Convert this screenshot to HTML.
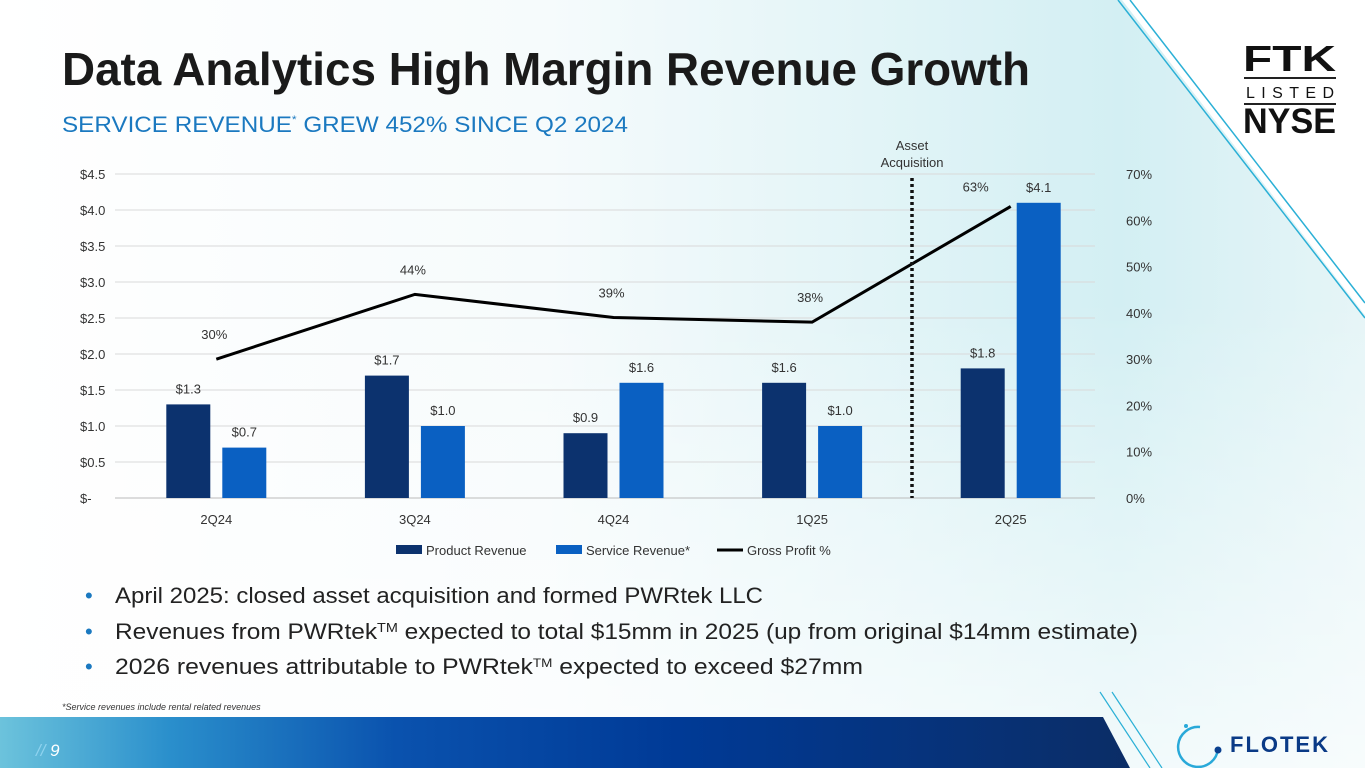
<!DOCTYPE html>
<html><head><meta charset="utf-8"><style>
body{margin:0;width:1365px;height:768px;overflow:hidden;font-family:"Liberation Sans",sans-serif;background:#fff}
svg{display:block}
</style></head><body>
<svg id="s" width="1365" height="768" viewBox="0 0 1365 768" font-family="Liberation Sans, sans-serif">
<defs>
<linearGradient id="bg" x1="0" y1="0" x2="1" y2="0">
<stop offset="0" stop-color="#ffffff"/><stop offset="0.4" stop-color="#f6fbfc"/><stop offset="0.82" stop-color="#d3eff3"/><stop offset="1" stop-color="#e6f5f7"/>
</linearGradient>
<linearGradient id="fade" x1="0" y1="0" x2="0" y2="1">
<stop offset="0" stop-color="#ffffff" stop-opacity="0"/><stop offset="1" stop-color="#ffffff" stop-opacity="0.7"/>
</linearGradient>
<linearGradient id="band" x1="0" y1="0" x2="1" y2="0">
<stop offset="0" stop-color="#6cc3dc"/><stop offset="0.15" stop-color="#2a8fcc"/><stop offset="0.35" stop-color="#0a52ae"/><stop offset="0.6" stop-color="#003a96"/><stop offset="1" stop-color="#0b2d66"/>
</linearGradient>
</defs>
<rect width="1365" height="768" fill="url(#bg)"/>
<rect y="300" width="1365" height="468" fill="url(#fade)"/>
<polygon points="1122,0 1365,0 1365,315" fill="#ffffff"/>
<line x1="1118" y1="0" x2="1365" y2="318" stroke="#2bb0d6" stroke-width="1.5"/>
<line x1="1130" y1="0" x2="1365" y2="303" stroke="#2bb0d6" stroke-width="1.5"/>
<polygon points="0,717 1103,717 1130,768 0,768" fill="url(#band)"/>
<line x1="1100" y1="692" x2="1150" y2="768" stroke="#2bb0d6" stroke-width="1.2"/>
<line x1="1112" y1="692" x2="1162" y2="768" stroke="#2bb0d6" stroke-width="1.2"/>
<text x="36" y="756" font-size="17" fill="#fff" font-style="italic"><tspan fill="#8fd3ef">//</tspan> 9</text>
<g>
<path d="M1200,727 A20,20 0 1 0 1218,749" fill="none" stroke="#29a9d9" stroke-width="2.5"/>
<circle cx="1218" cy="750" r="3.5" fill="#0a3f8f"/><circle cx="1186" cy="726" r="2" fill="#29a9d9"/>
<text x="1230" y="752" font-size="22" font-weight="bold" fill="#0a3a86" letter-spacing="2">FLOTEK</text>
</g>
<g>
<text x="1243" y="71" font-size="36" font-weight="bold" fill="#111" textLength="93" lengthAdjust="spacingAndGlyphs">FTK</text>
<rect x="1244" y="77" width="92" height="2" fill="#222"/>
<text x="1246" y="98" font-size="16" fill="#111" textLength="88">LISTED</text>
<rect x="1244" y="103" width="92" height="2" fill="#222"/>
<text x="1243" y="133" font-size="35" font-weight="bold" fill="#111" textLength="93" lengthAdjust="spacingAndGlyphs">NYSE</text>
</g>
<text x="62" y="85" font-size="46" font-weight="bold" fill="#1a1a1a" textLength="968" lengthAdjust="spacingAndGlyphs">Data Analytics High Margin Revenue Growth</text>
<text x="62" y="132" font-size="22" fill="#1b79c0" textLength="566" lengthAdjust="spacingAndGlyphs">SERVICE REVENUE<tspan font-size="11" dy="-9">*</tspan><tspan dy="9"> GREW 452% SINCE Q2 2024</tspan></text>
<g id="chart"></g>
<g font-size="22" fill="#222">
<text x="85" y="603" fill="#1b79c0">•</text>
<text x="115" y="603" textLength="648" lengthAdjust="spacingAndGlyphs">April 2025: closed asset acquisition and formed PWRtek LLC</text>
<text x="85" y="639" fill="#1b79c0">•</text>
<text x="115" y="639" textLength="1023" lengthAdjust="spacingAndGlyphs">Revenues from PWRtek<tspan font-size="13" dy="-7">TM</tspan><tspan dy="7"> expected to total $15mm in 2025 (up from original $14mm estimate)</tspan></text>
<text x="85" y="674" fill="#1b79c0">•</text>
<text x="115" y="674" textLength="748" lengthAdjust="spacingAndGlyphs">2026 revenues attributable to PWRtek<tspan font-size="12" dy="-7">TM</tspan><tspan dy="7"> expected to exceed $27mm</tspan></text>
</g>
<text x="62" y="710" font-size="9" font-style="italic" fill="#333">*Service revenues include rental related revenues</text>
</svg>
<script>
const categories=["2Q24","3Q24","4Q24","1Q25","2Q25"];
const productRevenue=[1.3,1.7,0.9,1.6,1.8];
const serviceRevenue=[0.7,1.0,1.6,1.0,4.1];
const grossProfit=[30,44,39,38,63];
const leftTicks=[0,0.5,1,1.5,2,2.5,3,3.5,4,4.5];
const rightTicks=[0,10,20,30,40,50,60,70];
const NS="http://www.w3.org/2000/svg";
const g=document.getElementById('chart');
const X0=115,X1=1110,Y0=498,Y1=174;
const yL=v=>Y0-(v/4.5)*(Y0-Y1);
const yR=v=>Y0-(v/70)*(Y0-Y1);
const step=(1108-115)/categories.length;
const xC=i=>X0+step*(i+0.5)+2;
function mk(t,a,txt){const e=document.createElementNS(NS,t);for(const k in a)e.setAttribute(k,a[k]);if(txt!==undefined)e.textContent=txt;g.appendChild(e);return e;}
leftTicks.forEach(v=>{
 const l=mk('line',{x1:X0,x2:1095,y1:yL(v),y2:yL(v),stroke:v===0?'#bbb':'#d9d9d9','stroke-width':1});
 
 
 const t=mk('text',{x:80,y:yL(v)+5,'font-size':13,fill:'#333'},v===0?'$-':'$'+v.toFixed(1));
 
 
});
rightTicks.forEach(v=>{
 const t=mk('text',{x:1126,y:yR(v)+5,'font-size':13,fill:'#333'},v+'%');
 
 
});
categories.forEach((c,i)=>{
 const cx=xC(i);
 const t=mk('text',{x:cx,y:524,'font-size':13,fill:'#333','text-anchor':'middle'},c);
 
 
 const pb=mk('rect',{x:cx-50,y:yL(productRevenue[i]),width:44,height:Y0-yL(productRevenue[i]),fill:'#0c326e'});
 
 
 const sb=mk('rect',{x:cx+6,y:yL(serviceRevenue[i]),width:44,height:Y0-yL(serviceRevenue[i]),fill:'#0a60c2'});
 
 
 const pl=mk('text',{x:cx-28,y:yL(productRevenue[i])-11,'font-size':13,fill:'#333','text-anchor':'middle'},'$'+productRevenue[i].toFixed(1));
 
 
 const sl=mk('text',{x:cx+28,y:yL(serviceRevenue[i])-11,'font-size':13,fill:'#333','text-anchor':'middle'},'$'+serviceRevenue[i].toFixed(1));
 
 
});
const pts=grossProfit.map((v,i)=>xC(i)+','+yR(v)).join(' ');
const line=mk('polyline',{points:pts,fill:'none',stroke:'#000','stroke-width':3});


grossProfit.forEach((v,i)=>{
 const last=i===grossProfit.length-1;
 const t=mk('text',{x:last?xC(i)-35:xC(i)-2,y:last?yR(v)-15:yR(v)-20,'font-size':13,fill:'#333','text-anchor':'middle'},v+'%');
 
 
});
const div=mk('line',{x1:912,x2:912,y1:178,y2:498,stroke:'#111','stroke-width':3.5,'stroke-dasharray':'3 3'});


const a1=mk('text',{x:912,y:150,'font-size':13,fill:'#333','text-anchor':'middle'},'Asset');


const a2=mk('text',{x:912,y:167,'font-size':13,fill:'#333','text-anchor':'middle'},'Acquisition');


const leg=[['rect','#0c326e','Product Revenue',396],['rect','#0a60c2','Service Revenue*',556],['line','#000','Gross Profit %',717]];
leg.forEach(([k,c,txt,x])=>{
 let m;
 if(k==='rect')m=mk('rect',{x:x,y:545,width:26,height:9,fill:c});
 else m=mk('line',{x1:x,x2:x+26,y1:550,y2:550,stroke:c,'stroke-width':3});
 
 
 const t=mk('text',{x:x+30,y:555,'font-size':13,fill:'#333'},txt);
 
 
});
</script>
</body></html>
